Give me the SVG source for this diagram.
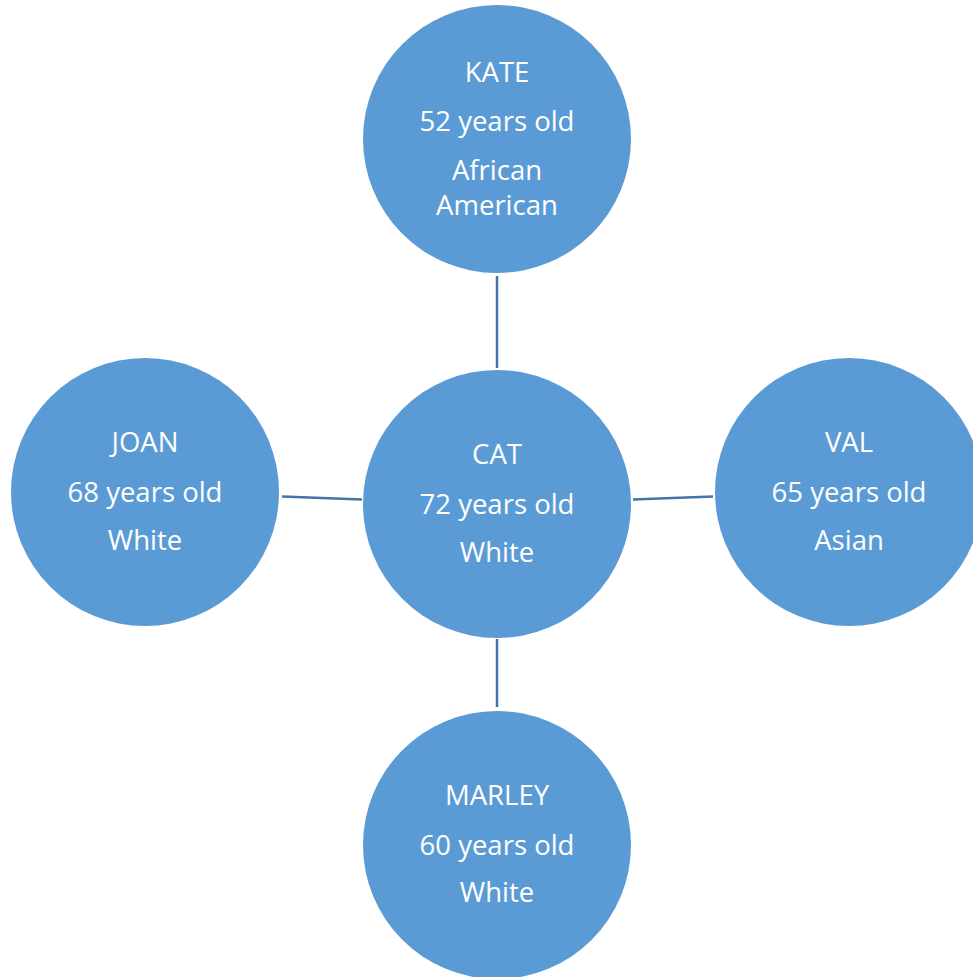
<svg xmlns="http://www.w3.org/2000/svg" width="973" height="977" viewBox="0 0 973 977">
<style>
.node circle{fill:#5B9BD5;}
.node text{fill:#FFFFFF;font-family:"Open Sans","Noto Sans",sans-serif;font-size:27.5px;text-anchor:middle;}
.conn line{stroke:#4274A5;stroke-width:2.5;fill:none;}
</style>
<rect width="973" height="977" fill="#FFFFFF"/>
<g id="connectors" class="conn">
<line x1="497" y1="276" x2="497" y2="368"/>
<line x1="497" y1="639" x2="497" y2="707"/>
<line x1="282" y1="496.5" x2="362" y2="499.5"/>
<line x1="633" y1="499.5" x2="713" y2="496.5"/>
</g>
<g id="kate" class="node">
<circle cx="497" cy="139" r="134"/>
<text x="497" y="82">KATE</text>
<text x="497" y="131">52 years old</text>
<text x="497" y="180">African</text>
<text x="497" y="215">American</text>
</g>
<g id="cat" class="node">
<circle cx="497" cy="504" r="134"/>
<text x="497" y="464">CAT</text>
<text x="497" y="514">72 years old</text>
<text x="497" y="562">White</text>
</g>
<g id="joan" class="node">
<circle cx="145" cy="492" r="134"/>
<text x="145" y="452">JOAN</text>
<text x="145" y="502">68 years old</text>
<text x="145" y="550">White</text>
</g>
<g id="val" class="node">
<circle cx="849" cy="492" r="134"/>
<text x="849" y="452">VAL</text>
<text x="849" y="502">65 years old</text>
<text x="849" y="550">Asian</text>
</g>
<g id="marley" class="node">
<circle cx="497" cy="845" r="134"/>
<text x="497" y="805">MARLEY</text>
<text x="497" y="855">60 years old</text>
<text x="497" y="902">White</text>
</g>
</svg>
